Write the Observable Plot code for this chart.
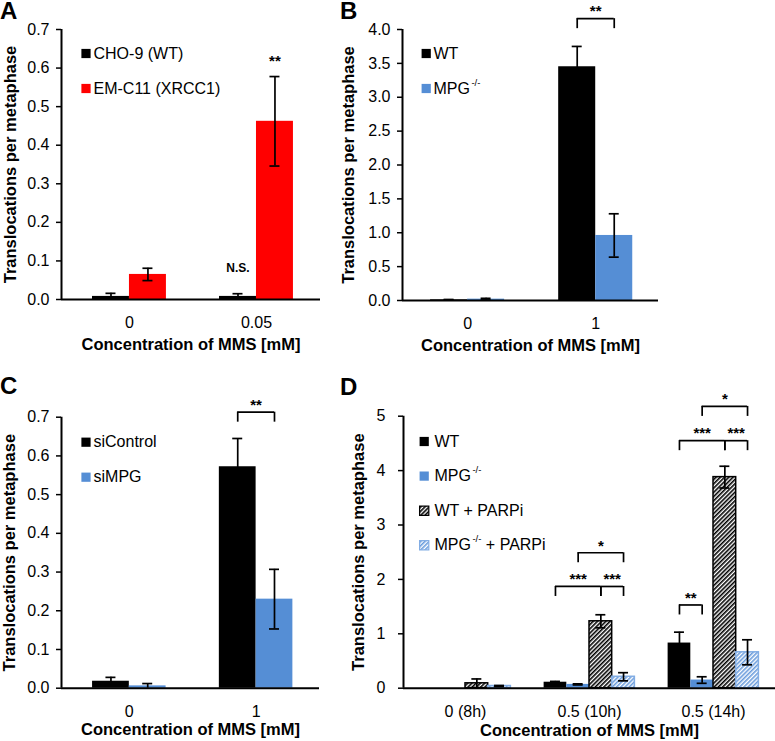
<!DOCTYPE html>
<html><head><meta charset="utf-8">
<script src="https://cdn.jsdelivr.net/npm/d3@7"></script>
<script src="https://cdn.jsdelivr.net/npm/@observablehq/plot@0.6"></script>
<style>
body{margin:0;background:#fff;}
#fig{position:relative;width:775px;height:741px;overflow:hidden;font-family:"Liberation Sans",Arial,Helvetica,sans-serif;background:#fff;}
.panel{position:absolute;}
.letter{position:absolute;font-weight:bold;font-size:24px;line-height:20px;color:#000;}
</style></head><body>
<svg width="0" height="0" style="position:absolute">
  <defs>
    <pattern id="hatchBlack" width="3" height="3" patternUnits="userSpaceOnUse" patternTransform="rotate(45)">
      <rect width="3" height="3" fill="#fff"/><rect width="1.6" height="3" fill="#000"/>
    </pattern>
    <pattern id="hatchBlue" width="3" height="3" patternUnits="userSpaceOnUse" patternTransform="rotate(45)">
      <rect width="3" height="3" fill="#fff"/><rect width="1.6" height="3" fill="#6a9cdc"/>
    </pattern>
  </defs>
</svg>
<div id="fig"></div>
<script>
// ---------- DATA ----------
// Panel A
const groupsA = ["0", "0.05"];
const seriesA = ["CHO-9 (WT)", "EM-C11 (XRCC1)"];
const meansA = [[0.008, 0.008], [0.065, 0.462]];
const errorsA = [[0.008, 0.007], [0.016, 0.116]];
const ticksA = [0, 0.1, 0.2, 0.3, 0.4, 0.5, 0.6, 0.7];
const notesA = [{group: 1, series: 1, y: 0.617, text: "**"}, {group: 1, series: 0, y: 0.080, text: "N.S."}];

// Panel B
const groupsB = ["0", "1"];
const seriesB = ["WT", "MPG-/-"];
const meansB = [[0.01, 3.45], [0.02, 0.96]];
const errorsB = [[0.005, 0.30], [0.012, 0.32]];
const ticksB = [0, 0.5, 1.0, 1.5, 2.0, 2.5, 3.0, 3.5, 4.0];
const bracketsB = [{group: 1, from: 0, to: 1, y: 4.16, text: "**"}];

// Panel C
const groupsC = ["0", "1"];
const seriesC = ["siControl", "siMPG"];
const meansC = [[0.018, 0.572], [0.006, 0.230]];
const errorsC = [[0.010, 0.073], [0.006, 0.077]];
const ticksC = [0, 0.1, 0.2, 0.3, 0.4, 0.5, 0.6, 0.7];
const bracketsC = [{group: 1, from: 0, to: 1, y: 0.713, text: "**"}];

// Panel D
const groupsD = ["0 (8h)", "0.5 (10h)", "0.5 (14h)"];
const seriesD = ["WT", "MPG-/-", "WT + PARPi", "MPG-/- + PARPi"];
const meansD = [[0, 0.11, 0.83], [0, 0.07, 0.15], [0.09, 1.23, 3.88], [0.04, 0.21, 0.66]];
const errorsD = [[0, 0.015, 0.20], [0, 0.01, 0.06], [0.08, 0.12, 0.20], [0.01, 0.075, 0.23]];
const ticksD = [0, 1, 2, 3, 4, 5];
const bracketsD = [
  {group: 1, from: 0, to: 2, y: 1.87, text: "***"},
  {group: 1, from: 2, to: 3, y: 1.87, text: "***"},
  {group: 1, from: 1, to: 3, y: 2.49, text: "*"},
  {group: 2, from: 0, to: 1, y: 1.53, text: "**"},
  {group: 2, from: 0, to: 2, y: 4.55, text: "***"},
  {group: 2, from: 2, to: 3, y: 4.55, text: "***"},
  {group: 2, from: 1, to: 3, y: 5.18, text: "*"}
];

const xTitle = "Concentration of MMS [mM]";
const yTitle = "Translocations per metaphase";

// ---------- STYLES ----------
const BLUE = "#558ed5";
const styleSolidBlack = {fill: "#000", stroke: "none"};
const styleRed = {fill: "#ff0000", stroke: "none"};
const styleBlue = {fill: BLUE, stroke: "none"};
const styleHatchBlack = {fill: "url(#hatchBlack)", stroke: "#000"};
const styleHatchBlue = {fill: "url(#hatchBlue)", stroke: "#82ade4"};
const FONT = '"Liberation Sans", Arial, Helvetica, sans-serif';

const canvas = document.createElement("canvas");
const ctx = canvas.getContext("2d");
function textWidth(s, size, weight = "normal") {
  ctx.font = `${weight} ${size}px ${FONT}`;
  return ctx.measureText(s).width;
}

function panel(cfg) {
  const {groups, series, means, errors, ticks, tickFormat, ymax, styles, brackets = [], notes = [], L} = cfg;
  const n = series.length;
  const ppu = (L.width - L.ml - L.mr) / (L.xdomain[1] - L.xdomain[0]);
  const ppy = (L.height - L.mt - L.mb) / ymax;
  const cap = 5 / ppu;
  const drop = 10 / ppy;
  const xc = (gi, sj) => gi + (sj - n / 2 + 0.5) * L.barW;
  const rows = series.flatMap((s, j) => groups.map((g, i) => ({gi: i, sj: j, v: means[j][i], e: errors[j][i]})));
  const marks = [];
  // bars
  series.forEach((s, j) => {
    const st = styles[j];
    marks.push(Plot.rect(rows.filter(d => d.sj === j && d.v > 0), {
      x1: d => xc(d.gi, d.sj) - L.barW / 2,
      x2: d => xc(d.gi, d.sj) + L.barW / 2,
      y1: () => 0, y2: "v",
      fill: st.fill, stroke: st.stroke, strokeWidth: 1.5
    }));
  });
  // error bars
  const err = rows.filter(d => d.e > 0);
  marks.push(Plot.ruleX(err, {x: d => xc(d.gi, d.sj), y1: d => Math.max(0, d.v - d.e), y2: d => d.v + d.e, stroke: "#000", strokeWidth: 1.7}));
  marks.push(Plot.ruleY(err, {y: d => d.v + d.e, x1: d => xc(d.gi, d.sj) - cap, x2: d => xc(d.gi, d.sj) + cap, stroke: "#000", strokeWidth: 1.7}));
  marks.push(Plot.ruleY(err.filter(d => d.v - d.e > 0), {y: d => d.v - d.e, x1: d => xc(d.gi, d.sj) - cap, x2: d => xc(d.gi, d.sj) + cap, stroke: "#000", strokeWidth: 1.7}));
  // axis lines
  marks.push(Plot.ruleX([L.xdomain[0]], {stroke: "#000", strokeWidth: 2}));
  marks.push(Plot.ruleY([0], {stroke: "#000", strokeWidth: 2}));
  // axes
  marks.push(Plot.axisY({ticks, tickFormat, tickSize: 5, tickPadding: L.tickPad, strokeWidth: 1.5, label: null, fontSize: 16}));
  marks.push(Plot.axisX({ticks: groups.map((g, i) => i), tickFormat: i => groups[i], tickSize: 0, tickPadding: 17, label: null, fontSize: 16}));
  // titles
  marks.push(Plot.text([xTitle], {text: d => d, frameAnchor: "bottom", dy: L.xTitleDy, textAnchor: "middle", lineAnchor: "middle", fontWeight: "bold", fontSize: 16.5}));
  marks.push(Plot.text([yTitle], {text: d => d, frameAnchor: "left", rotate: -90, dx: L.yTitleDx, textAnchor: "middle", lineAnchor: "middle", fontWeight: "bold", fontSize: 16.5}));
  // legend
  series.forEach((s, j) => {
    const st = styles[j];
    const dy = L.leg.dy0 + j * L.leg.step;
    marks.push(Plot.dot([s], {frameAnchor: "top-left", dx: L.leg.dx, dy, symbol: "square", r: 5.2, fill: st.fill, stroke: st.stroke, strokeWidth: st.stroke === "none" ? 0 : 1.2}));
    const parts = s.split("-/-");
    let tx = L.leg.tdx;
    marks.push(Plot.text([parts[0]], {text: d => d, frameAnchor: "top-left", dx: tx, dy, textAnchor: "start", lineAnchor: "middle", fontSize: 16}));
    if (parts.length > 1) {
      tx += textWidth(parts[0], 16) + 1.5;
      marks.push(Plot.text(["-/-"], {text: d => d, frameAnchor: "top-left", dx: tx, dy: dy - 6, textAnchor: "start", lineAnchor: "middle", fontSize: 9.5}));
      tx += textWidth("-/-", 9.5);
      if (parts[1]) marks.push(Plot.text([parts[1]], {text: d => d, frameAnchor: "top-left", dx: tx, dy, textAnchor: "start", lineAnchor: "middle", fontSize: 16}));
    }
  });
  // significance brackets
  if (brackets.length) {
    marks.push(Plot.ruleY(brackets, {y: "y", x1: d => xc(d.group, d.from), x2: d => xc(d.group, d.to), stroke: "#000", strokeWidth: 1.7}));
    const arms = brackets.flatMap(b => [{x: xc(b.group, b.from), y: b.y}, {x: xc(b.group, b.to), y: b.y}]);
    marks.push(Plot.ruleX(arms, {x: "x", y1: "y", y2: d => d.y - drop, stroke: "#000", strokeWidth: 1.7}));
    marks.push(Plot.text(brackets, {x: d => (xc(d.group, d.from) + xc(d.group, d.to)) / 2, y: "y", text: "text", dy: -7, fontWeight: "bold", fontSize: 15}));
  }
  // significance notes above single bars
  if (notes.length) {
    marks.push(Plot.text(notes.filter(d => d.text.includes("*")), {x: d => xc(d.group, d.series), y: "y", text: "text", fontWeight: "bold", fontSize: 15}));
    marks.push(Plot.text(notes.filter(d => !d.text.includes("*")), {x: d => xc(d.group, d.series), y: "y", text: "text", fontWeight: "bold", fontSize: 12}));
  }
  return Plot.plot({
    width: L.width, height: L.height,
    marginLeft: L.ml, marginRight: L.mr, marginTop: L.mt, marginBottom: L.mb,
    x: {domain: L.xdomain, axis: null},
    y: {domain: [0, ymax], axis: null},
    style: {fontFamily: FONT, fontSize: "16px", color: "#000", background: "transparent", overflow: "visible"},
    marks
  });
}

function place(el, left, top) {
  el.classList.add("panel");
  el.style.left = left + "px";
  el.style.top = top + "px";
  document.getElementById("fig").appendChild(el);
}
function letter(t, left, top) {
  const d = document.createElement("div");
  d.className = "letter"; d.textContent = t;
  d.style.left = left + "px"; d.style.top = top + "px";
  document.getElementById("fig").appendChild(d);
}

const fmt1 = d3.format(".1f");
const fmt0 = d3.format("d");

const pA = panel({
  groups: groupsA, series: seriesA, means: meansA, errors: errorsA, ticks: ticksA, tickFormat: fmt1, ymax: 0.7,
  styles: [styleSolidBlack, styleRed], notes: notesA,
  L: {width: 385, height: 370, ml: 61, mr: 65, mt: 29, mb: 71, xdomain: [-0.535, 1.504], barW: 0.291, tickPad: 7,
      xTitleDy: 45, yTitleDx: -51, leg: {dx: 24.5, dy0: 24, step: 35, tdx: 32}}
});
place(pA, 0, 0);

const pB = panel({
  groups: groupsB, series: seriesB, means: meansB, errors: errorsB, ticks: ticksB, tickFormat: fmt1, ymax: 4.0,
  styles: [styleSolidBlack, styleBlue], brackets: bracketsB,
  L: {width: 445, height: 370, ml: 72, mr: 117, mt: 29, mb: 70, xdomain: [-0.508, 1.49], barW: 0.289, tickPad: 7,
      xTitleDy: 45, yTitleDx: -54, leg: {dx: 23.7, dy0: 24, step: 35, tdx: 31}}
});
place(pB, 330, 0);

const pC = panel({
  groups: groupsC, series: seriesC, means: meansC, errors: errorsC, ticks: ticksC, tickFormat: fmt1, ymax: 0.7,
  styles: [styleSolidBlack, styleBlue], brackets: bracketsC,
  L: {width: 385, height: 371, ml: 61, mr: 66, mt: 46.7, mb: 53.3, xdomain: [-0.535, 1.5], barW: 0.29, tickPad: 7,
      xTitleDy: 42, yTitleDx: -52, leg: {dx: 24.5, dy0: 25, step: 35, tdx: 32}}
});
place(pC, 0, 370);

const pD = panel({
  groups: groupsD, series: seriesD, means: meansD, errors: errorsD, ticks: ticksD, tickFormat: fmt0, ymax: 5,
  styles: [styleSolidBlack, styleBlue, styleHatchBlack, styleHatchBlue], brackets: bracketsD,
  L: {width: 445, height: 371, ml: 73, mr: 0, mt: 45.7, mb: 53.3, xdomain: [-0.5, 2.5], barW: 0.183, tickPad: 13,
      xTitleDy: 43, yTitleDx: -45, leg: {dx: 20.7, dy0: 25.3, step: 34.6, tdx: 31}}
});
place(pD, 330, 370);

letter("A", 0, 1);
letter("B", 340, 1);
letter("C", 0, 376);
letter("D", 340, 377);
</script>
</body></html>
